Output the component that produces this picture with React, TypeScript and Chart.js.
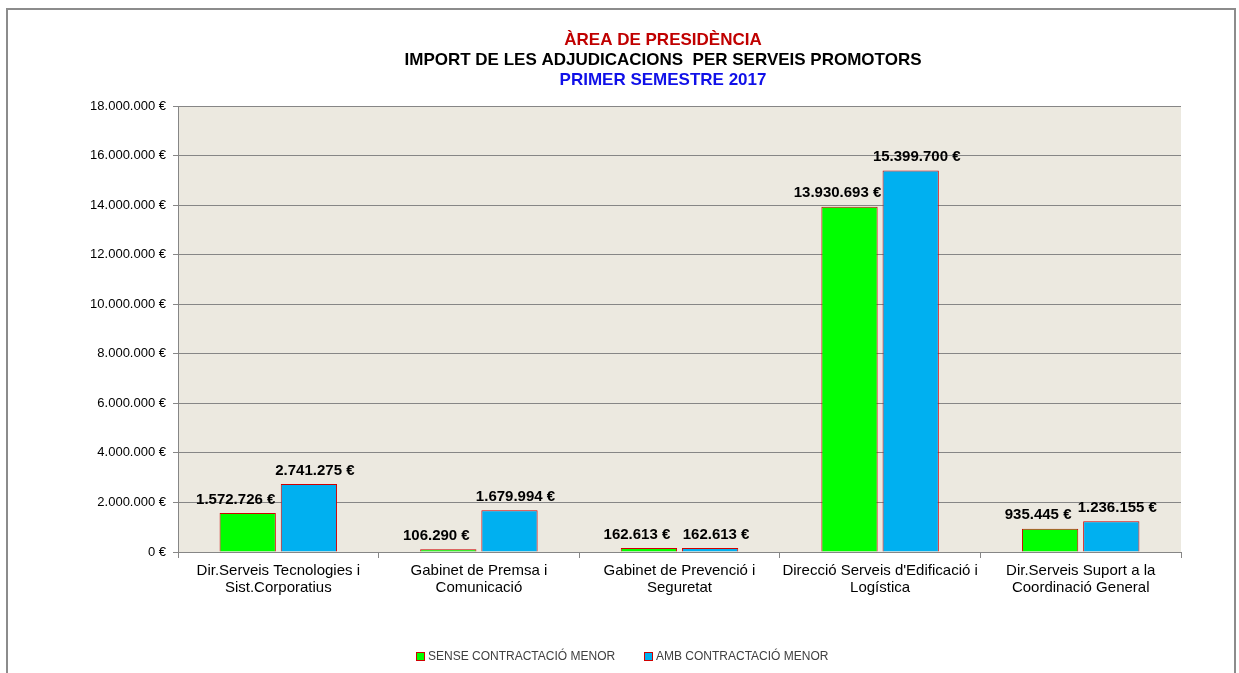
import React, { useEffect, useRef } from "react";
import { Chart, registerables } from "chart.js";

Chart.register(...registerables);

const categories: string[][] = [
  ["Dir.Serveis Tecnologies i", "Sist.Corporatius"],
  ["Gabinet de Premsa i", "Comunicació"],
  ["Gabinet de Prevenció i", "Seguretat"],
  ["Direcció Serveis d'Edificació i", "Logística"],
  ["Dir.Serveis Suport a la", "Coordinació General"],
];
const senseValues = [1572726, 106290, 162613, 13930693, 935445];
const ambValues = [2741275, 1679994, 162613, 15399700, 1236155];
const seriesNames = ["SENSE CONTRACTACIÓ MENOR", "AMB CONTRACTACIÓ MENOR"];
const titleLines = ["ÀREA DE PRESIDÈNCIA", "IMPORT DE LES ADJUDICACIONS  PER SERVEIS PROMOTORS", "PRIMER SEMESTRE 2017"];
const yMin = 0;
const yMax = 18000000;
const yStep = 2000000;

const W = 1239;
const H = 673;
const FONT = "'Liberation Sans', Arial, sans-serif";
const GREEN = "#00FF00";
const BLUE = "#00B0F0";
const BAR_BORDER = "#D00000";
const GRID = "#868686";
const PLOT_BG = "#ECE9E0";

function fmt(n: number): string {
  const s = Math.round(n).toString().replace(/\B(?=(\d{3})+(?!\d))/g, ".");
  return s + " €";
}

const decor = {
  id: "decor",
  beforeDraw(chart: any) {
    const { ctx, chartArea } = chart;
    ctx.save();
    ctx.fillStyle = "#FFFFFF";
    ctx.fillRect(0, 0, W, H);
    ctx.strokeStyle = "#8C8C8C";
    ctx.lineWidth = 2;
    ctx.beginPath();
    ctx.moveTo(7, H + 5);
    ctx.lineTo(7, 9);
    ctx.lineTo(1235, 9);
    ctx.lineTo(1235, H + 5);
    ctx.stroke();
    ctx.fillStyle = PLOT_BG;
    ctx.fillRect(chartArea.left, chartArea.top, chartArea.right - chartArea.left, chartArea.bottom - chartArea.top);
    ctx.restore();
  },
  afterDatasetsDraw(chart: any) {
    const { ctx } = chart;
    ctx.save();
    ctx.font = `bold 15px ${FONT}`;
    ctx.fillStyle = "#000000";
    ctx.textAlign = "center";
    ctx.textBaseline = "bottom";
    const offs = [-12, 6];
    chart.data.datasets.forEach((ds: any, di: number) => {
      const meta = chart.getDatasetMeta(di);
      meta.data.forEach((bar: any, i: number) => {
        ctx.fillText(fmt(ds.data[i]), bar.x + offs[di], bar.y - 6);
      });
    });
    ctx.restore();
  },
  afterDraw(chart: any) {
    const { ctx } = chart;
    ctx.save();
    ctx.textAlign = "center";
    ctx.textBaseline = "middle";
    ctx.font = `bold 17px ${FONT}`;
    const colors = ["#C00000", "#000000", "#1010E8"];
    const ys = [40, 60, 80];
    titleLines.forEach((t, i) => {
      ctx.fillStyle = colors[i];
      ctx.fillText(t, 663, ys[i]);
    });
    ctx.font = `12px ${FONT}`;
    ctx.textAlign = "left";
    const fills = [GREEN, BLUE];
    const starts = [416, 644];
    seriesNames.forEach((name, i) => {
      const x = starts[i];
      ctx.fillStyle = fills[i];
      ctx.fillRect(x, 652, 8, 8);
      ctx.strokeStyle = BAR_BORDER;
      ctx.lineWidth = 1;
      ctx.strokeRect(x + 0.5, 652.5, 8, 8);
      ctx.fillStyle = "#404040";
      ctx.fillText(name, x + 12, 657);
    });
    ctx.restore();
  },
};

export default function App() {
  const ref = useRef<HTMLCanvasElement | null>(null);
  useEffect(() => {
    if (!ref.current) return;
    const chart = new Chart(ref.current, {
      type: "bar",
      data: {
        labels: categories as any,
        datasets: [
          {
            label: seriesNames[0],
            data: senseValues,
            backgroundColor: GREEN,
            borderColor: BAR_BORDER,
            borderWidth: 1,
            categoryPercentage: 0.61,
            barPercentage: 0.92,
          },
          {
            label: seriesNames[1],
            data: ambValues,
            backgroundColor: BLUE,
            borderColor: BAR_BORDER,
            borderWidth: 1,
            categoryPercentage: 0.61,
            barPercentage: 0.92,
          },
        ],
      },
      options: {
        responsive: false,
        animation: false,
        devicePixelRatio: 1,
        layout: { padding: { top: 106, right: 58, left: 0, bottom: 0 } },
        plugins: {
          legend: { display: false },
          title: { display: false },
          tooltip: { enabled: false },
        },
        scales: {
          x: {
            grid: { display: true, drawOnChartArea: false, offset: true, tickLength: 6, color: GRID },
            border: { display: true, color: GRID },
            ticks: {
              color: "#000000",
              font: { family: FONT, size: 15, lineHeight: 1.1 },
              padding: 5,
              maxRotation: 0,
              autoSkip: false,
            },
            afterFit: (s: any) => {
              s.height = H - 552;
            },
          },
          y: {
            min: yMin,
            max: yMax,
            grid: { color: GRID, tickLength: 5 },
            border: { display: true, color: GRID },
            ticks: {
              stepSize: yStep,
              color: "#000000",
              font: { family: FONT, size: 13 },
              padding: 7,
              callback: (v: any) => fmt(Number(v)),
            },
            afterFit: (s: any) => {
              s.width = 178;
            },
          },
        },
      },
      plugins: [decor],
    });
    return () => chart.destroy();
  }, []);
  return (
    <div style={{ position: "fixed", left: 0, top: 0, width: W, height: H, background: "#fff" }}>
      <canvas ref={ref} width={W} height={H} style={{ width: W, height: H, display: "block" }} />
    </div>
  );
}
